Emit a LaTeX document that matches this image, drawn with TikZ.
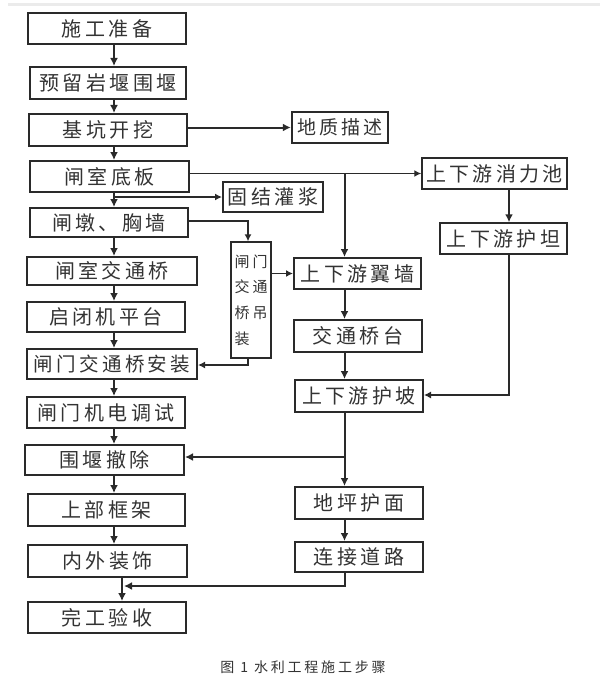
\documentclass[tikz,border=0pt]{standalone}
\usepackage{fontspec}
\usetikzlibrary{arrows.meta}
\newfontfamily\cjk[LetterSpace=17]{Noto Sans CJK SC}
\newfontfamily\cjkv[LetterSpace=20]{Noto Sans CJK SC}
\newfontfamily\cjkcap[LetterSpace=20]{Noto Sans CJK SC}
\definecolor{lc}{HTML}{2A2A2A}
\definecolor{tc}{HTML}{333333}
\tikzset{
  box/.style={draw=lc, line width=2pt, inner sep=0pt, text=tc,
    font=\cjk\fontsize{20pt}{24pt}\selectfont},
  lbox/.style={box, line width=1.5pt},
  vbox/.style={draw=lc, line width=1.3pt, inner sep=0pt, text=tc, align=left,
    font=\cjkv\fontsize{15pt}{25.7pt}\selectfont},
  arr/.style={draw=lc, line width=2pt, -{Latex[length=8pt,width=8pt]}},
  tarr/.style={draw=lc, line width=1.4pt, -{Latex[length=7pt,width=7pt]}},
  harr/.style={draw=lc, line width=1.1pt, -{Latex[length=7pt,width=7pt]}},
}
\begin{document}
\begin{tikzpicture}[x=1pt,y=-1pt]
\fill[white] (0,0) rectangle (600,682);
\useasboundingbox (0,0) rectangle (600,682);
\draw[line width=3pt, black!8] (8,5) -- (600,5);
% left column
\node[box, minimum width=158pt, minimum height=31pt] (prep) at (107,28.5) {施工准备};
\node[box, minimum width=156pt, minimum height=32pt] (yuliu) at (108,83) {预留岩堰围堰};
\node[box, minimum width=158pt, minimum height=32pt] (jikeng) at (108,130) {基坑开挖};
\node[box, minimum width=96pt, minimum height=31pt, font=\cjk\fontsize{19pt}{22pt}\selectfont, line width=2.4pt] (dizhi) at (340,127.5) {地质描述};
\node[box, minimum width=159pt, minimum height=31pt] (dibian) at (109.5,176.5) {闸室底板};
\node[box, minimum width=100pt, minimum height=30pt] (gujie) at (273,197) {固结灌浆};
\node[box, minimum width=158pt, minimum height=29pt] (zhadun) at (109,222.5) {闸墩、胸墙};
\node[box, minimum width=170pt, minimum height=28pt] (jiaotong) at (112,271) {闸室交通桥};
\node[box, minimum width=158pt, minimum height=30pt] (qibi) at (106,317) {启闭机平台};
\node[box, minimum width=170pt, minimum height=30pt, font=\cjk\fontsize{19.5pt}{22pt}\selectfont] (anzhuang) at (112,364) {闸门交通桥安装};
\node[box, minimum width=158pt, minimum height=31pt] (tiaoshi) at (106,412.5) {闸门机电调试};
\node[box, minimum width=159pt, minimum height=30pt] (chechu) at (104.5,460) {围堰撤除};
\node[box, minimum width=157pt, minimum height=32pt] (kuangjia) at (106.5,510) {上部框架};
\node[box, minimum width=159pt, minimum height=32pt] (zhuangshi) at (107.5,561) {内外装饰};
\node[box, minimum width=158pt, minimum height=31pt] (yanshou) at (107,617.5) {完工验收};
% middle / right
\node[vbox, minimum width=40pt, minimum height=116pt] (diaozhuang) at (251,300) {闸门\\交通\\桥吊\\装};
\node[lbox, minimum width=145pt, minimum height=31pt] (xiaoli) at (494.5,173.5) {上下游消力池};
\node[lbox, minimum width=127pt, minimum height=31pt] (hutan) at (503.5,238.5) {上下游护坦};
\node[box, minimum width=127pt, minimum height=31pt] (yiqiang) at (357.5,273.5) {上下游翼墙};
\node[box, minimum width=128pt, minimum height=32pt] (qiaotai) at (358,336) {交通桥台};
\node[box, minimum width=128pt, minimum height=32pt] (hupo) at (359,396) {上下游护坡};
\node[box, minimum width=128pt, minimum height=32pt] (diping) at (359,503) {地坪护面};
\node[box, minimum width=128pt, minimum height=30pt] (daolu) at (359,557) {连接道路};
% caption
\node[text=tc, inner sep=0pt, font=\cjkcap\fontsize{14pt}{16pt}\selectfont] (cap) at (303,667) {图 1 水利工程施工步骤};
% helper coordinates
\coordinate (spine) at (114,0);
\coordinate (spineb) at (122,0);
\coordinate (rcol) at (344.5,0);
\coordinate (hcol) at (509,0);
\coordinate (join) at (124,586);
% main chain
\draw[arr] (spine |- prep.south) -- (spine |- yuliu.north);
\draw[arr] (spine |- yuliu.south) -- (spine |- jikeng.north);
\draw[arr] (spine |- jikeng.south) -- (spine |- dibian.north);
\draw[arr] (spine |- dibian.south) -- (spine |- zhadun.north);
\draw[arr] (spine |- zhadun.south) -- (spine |- jiaotong.north);
\draw[arr] (spine |- jiaotong.south) -- (spine |- qibi.north);
\draw[arr] (spine |- qibi.south) -- (spine |- anzhuang.north);
\draw[arr] (spine |- anzhuang.south) -- (spine |- tiaoshi.north);
\draw[arr] (spine |- tiaoshi.south) -- (spine |- chechu.north);
\draw[arr] (spine |- chechu.south) -- (spine |- kuangjia.north);
\draw[arr] (spine |- kuangjia.south) -- (spine |- zhuangshi.north);
\draw[arr] (spineb |- zhuangshi.south) -- (spineb |- yanshou.north);
% branches
\draw[arr] (jikeng.east |- dizhi.west) -- (dizhi.west);
\draw[tarr] (spine |- gujie.west) -- (gujie.west);
\draw[tarr] (dibian.east |- xiaoli.west) -- (xiaoli.west);
\draw[arr] (rcol |- xiaoli.west) -- (rcol |- yiqiang.north);
\draw[tarr] ([yshift=1.5pt]zhadun.east) -| ([xshift=-3pt]diaozhuang.north);
\draw[tarr] (diaozhuang.east |- yiqiang.west) -- (yiqiang.west);
\draw[tarr] ([xshift=-3pt]diaozhuang.south) |- ([yshift=-1pt]anzhuang.east);
\draw[arr] (hcol |- xiaoli.south) -- (hcol |- hutan.north);
\draw[harr] (hcol |- hutan.south) |- ([yshift=1pt]hupo.east);
\draw[arr] (rcol |- yiqiang.south) -- (rcol |- qiaotai.north);
\draw[arr] (rcol |- qiaotai.south) -- (rcol |- hupo.north);
\draw[arr] (rcol |- hupo.south) -- (rcol |- diping.north);
\draw[arr] (rcol |- 0,457) -- ([yshift=3pt]chechu.east);
\draw[arr] (rcol |- diping.south) -- (rcol |- daolu.north);
\draw[arr] (rcol |- daolu.south) |- (join);
\end{tikzpicture}
\end{document}
